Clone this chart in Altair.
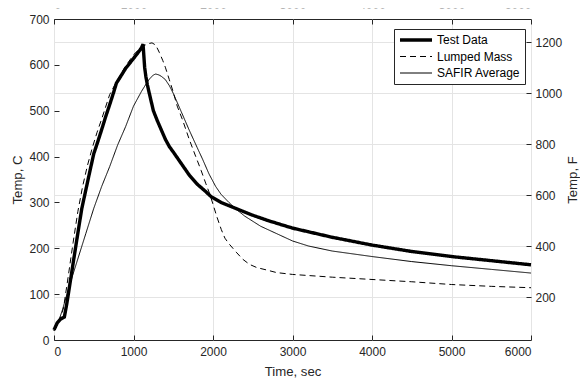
import altair as alt
import pandas as pd

# ---- data ----
series_names = ["Test Data", "Lumped Mass", "SAFIR Average"]

test_t = [0, 40, 80, 130, 160, 200, 250, 300, 350, 400, 450, 500, 550, 600, 650,
          700, 750, 785, 850, 900, 950, 1000, 1050, 1100, 1120, 1130, 1140, 1155,
          1175, 1200, 1250, 1300, 1350, 1400, 1450, 1500, 1600, 1700, 1800, 1900,
          1980, 2100, 2200, 2300, 2500, 2700, 3000, 3200, 3500, 4000, 4500, 5000,
          5500, 6000]
test_c = [22, 37, 45, 50, 78, 122, 178, 233, 287, 327, 367, 406, 432, 459, 487,
          513, 540, 560, 578, 592, 603, 614, 625, 637, 645, 620, 595, 575,
          556, 537, 500, 478, 458, 438, 422, 410, 385, 360, 340, 325,
          312, 300, 293, 286, 272, 260, 244, 236, 224, 207, 193, 182,
          173, 164]

lumped_t = [0, 60, 120, 180, 240, 300, 360, 420, 480, 540, 600, 700, 800, 900,
            1000, 1100, 1180, 1233, 1280, 1325, 1367, 1400, 1450, 1492, 1550,
            1617, 1700, 1783, 1850, 1908, 1960, 2000, 2050, 2104, 2150, 2200,
            2250, 2300, 2375, 2458, 2550, 2667, 2800, 3000, 3500, 4000, 4500,
            5000, 5500, 6000]
lumped_c = [20, 38, 70, 140, 212, 280, 335, 380, 418, 452, 482, 535, 568, 597,
            622, 639, 646, 648, 643, 627, 610, 595, 568, 545, 510,
            480, 438, 400, 370, 342, 318, 296, 268, 241, 222, 210,
            200, 190, 176, 165, 158, 153, 147, 143, 137, 132, 127,
            121, 117, 114]

safir_t = [0, 50, 100, 150, 200, 300, 400, 500, 600, 700, 800, 900, 1000, 1100,
           1150, 1200, 1250, 1280, 1320, 1350, 1400, 1450, 1500, 1550, 1600,
           1700, 1800, 1867, 1950, 2033, 2100, 2200, 2300, 2400, 2600, 2800,
           3000, 3200, 3500, 4000, 4500, 5000, 5500, 6000]
safir_c = [20, 38, 62, 92, 122, 177, 232, 287, 335, 378, 425, 465, 510, 542,
           556, 569, 578, 580, 578, 575, 568, 555, 538, 518, 498,
           458, 420, 395, 362, 335, 318, 300, 284, 270, 248, 232,
           216, 205, 194, 182, 171, 162, 154, 146]

x_ticks = [0, 1000, 2000, 3000, 4000, 5000, 6000]
c_ticks = [0, 100, 200, 300, 400, 500, 600, 700]
f_ticks = [200, 400, 600, 800, 1000, 1200]

rows = []
for name, ts, cs in [("Test Data", test_t, test_c),
                     ("Lumped Mass", lumped_t, lumped_c),
                     ("SAFIR Average", safir_t, safir_c)]:
    for i, (t, c) in enumerate(zip(ts, cs)):
        rows.append({"series": name, "t": t, "C": c, "order": i})
df = pd.DataFrame(rows)

ink = "#262626"
gridc = "#e4e4e4"
font = "Liberation Sans"

xscale = alt.Scale(domain=[0, 6000], nice=False, zero=False)

common_axis = dict(
    offset=-5, tickSize=5, domain=False, tickColor=ink, tickWidth=1,
    labelColor=ink, labelFont=font, labelFontSize=12, format="d",
    titleColor=ink, titleFont=font, titleFontSize=13.2, titleFontWeight="normal",
)

legend = alt.Legend(
    title=None, orient="none", legendX=340, legendY=10,
    symbolType="stroke", symbolSize=1024, clipHeight=14,
    labelFont=font, labelFontSize=12, labelColor="black", labelOffset=3,
    padding=4, rowPadding=2.5, strokeColor=ink, fillColor="white",
)

lines = alt.Chart(df).mark_line().encode(
    x=alt.X("t:Q", scale=xscale,
            axis=alt.Axis(orient="bottom", values=x_ticks, title="Time, sec",
                          grid=True, gridColor=gridc, gridWidth=1,
                          labelPadding=6, titlePadding=8, **common_axis)),
    y=alt.Y("C:Q", scale=alt.Scale(domain=[0, 700], nice=False),
            axis=alt.Axis(orient="left", values=c_ticks, title="Temp, C",
                          grid=False, labelPadding=5, titlePadding=4,
                          **common_axis)),
    color=alt.Color("series:N", scale=alt.Scale(domain=series_names,
                                                range=["black", "black", "black"]),
                    legend=legend),
    strokeDash=alt.StrokeDash("series:N",
                              scale=alt.Scale(domain=series_names,
                                              range=[[1, 0], [6, 4], [1, 0]]),
                              legend=legend),
    strokeWidth=alt.StrokeWidth("series:N",
                                scale=alt.Scale(type="ordinal", domain=series_names,
                                                range=[3.4, 1, 1]),
                                legend=legend),
    order="order:Q",
)

f_layer = alt.Chart(df).transform_filter(
    alt.datum.series == "Test Data"
).transform_calculate(F="datum.C * 1.8 + 32").mark_line(opacity=0).encode(
    x=alt.X("t:Q", scale=xscale,
            axis=alt.Axis(orient="top", values=x_ticks, title=None,
                          labelPadding=8, grid=False,
                          **{**common_axis, "labelColor": "#b4b4b4"})),
    y=alt.Y("F:Q", scale=alt.Scale(domain=[32, 1292], nice=False),
            axis=alt.Axis(orient="right", values=f_ticks, title="Temp, F",
                          grid=True, gridColor=gridc, gridWidth=1,
                          labelPadding=4, titlePadding=18, titleAngle=270,
                          **common_axis)),
)

chart = alt.layer(f_layer, lines).resolve_scale(
    y="independent"
).resolve_axis(
    x="independent", y="independent"
).properties(
    width=477, height=321,
    padding={"left": 46, "top": 11, "right": 49, "bottom": 38},
    autosize=alt.AutoSizeParams(type="none"),
    background="white",
).configure_view(stroke=ink, strokeWidth=1)

chart.save("out.html", embed_options={"renderer": "svg", "actions": False})
